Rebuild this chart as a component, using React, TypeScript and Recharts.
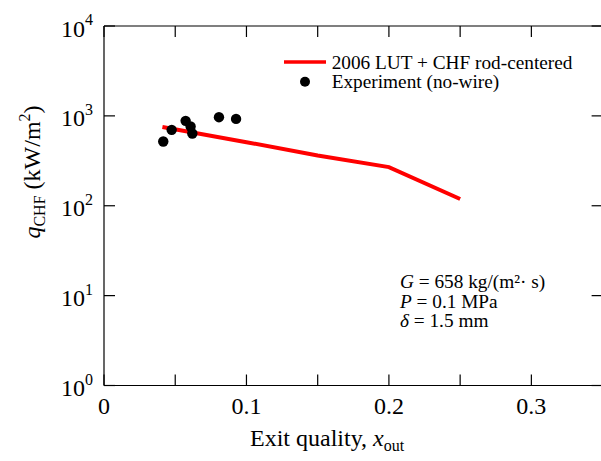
import React from "react";
import {
  ComposedChart,
  Line,
  Scatter,
  XAxis,
  YAxis,
  Legend,
} from "recharts";

// 2006 LUT + CHF rod-centered prediction
const LUT_X = [0.041, 0.1, 0.15, 0.2, 0.25];
const LUT_Q = [752, 510, 362, 269, 119];

// Experiment (no-wire)
const EXP_X = [0.0416, 0.0475, 0.0573, 0.0608, 0.062, 0.0807, 0.0927];
const EXP_Q = [518, 699, 880, 761, 636, 967, 926];

const X_TICKS = [0, 0.05, 0.1, 0.15, 0.2, 0.25, 0.3, 0.35];
const X_LABELS = ["0", "", "0.1", "", "0.2", "", "0.3", ""];
const Y_TICKS = [1, 10, 100, 1000, 10000];
const Y_EXP = ["0", "1", "2", "3", "4"];

const lutData = LUT_X.map((x, i) => ({ x, y: LUT_Q[i] }));
const expData = EXP_X.map((x, i) => ({ x, y: EXP_Q[i] }));

const FONT = "'Liberation Serif', 'Times New Roman', serif";
const INK = "#000";
const TICK = 11;
const W = 620;
const H = 461;

function BottomTick(props: any) {
  const { x, y, payload } = props;
  const i = X_TICKS.indexOf(payload.value);
  const label = i >= 0 ? X_LABELS[i] : "";
  return (
    <g>
      <line x1={x} x2={x} y1={y} y2={y - TICK} stroke={INK} strokeWidth={1.2} />
      {label && (
        <text x={x} y={y + 28} textAnchor="middle" fontSize={24} fontFamily={FONT} fill={INK}>
          {label}
        </text>
      )}
    </g>
  );
}

function TopTick(props: any) {
  const { x, y } = props;
  return <line x1={x} x2={x} y1={y} y2={y + TICK} stroke={INK} strokeWidth={1.2} />;
}

function LeftTick(props: any) {
  const { x, y, payload } = props;
  const i = Y_TICKS.indexOf(payload.value);
  return (
    <g>
      <line x1={x} x2={x + TICK} y1={y} y2={y} stroke={INK} strokeWidth={1.2} />
      <text x={x - 11} y={y + 10.5} textAnchor="end" fontSize={24} fontFamily={FONT} fill={INK}>
        10
        <tspan fontSize={16} dy={-11.5}>
          {Y_EXP[i]}
        </tspan>
      </text>
    </g>
  );
}

function RightTick(props: any) {
  const { x, y } = props;
  return <line x1={x} x2={x - TICK} y1={y} y2={y} stroke={INK} strokeWidth={1.2} />;
}

function Dot(props: any) {
  return <circle cx={props.cx} cy={props.cy} r={5.2} fill={INK} />;
}

function LegendBox() {
  return (
    <svg width={320} height={50} style={{ display: "block", overflow: "visible" }}>
      <line x1={4} x2={46} y1={14} y2={14} stroke="#ff0000" strokeWidth={3.5} />
      <text x={51.7} y={21} fontSize={19.3} fontFamily={FONT} fill={INK}>
        2006 LUT + CHF rod-centered
      </text>
      <circle cx={25} cy={33.7} r={5} fill={INK} />
      <text x={51.7} y={40} fontSize={19.3} fontFamily={FONT} fill={INK}>
        Experiment (no-wire)
      </text>
    </svg>
  );
}

export default function App() {
  const axisLine = { stroke: INK, strokeWidth: 1.2 };
  return (
    <div
      style={{
        position: "fixed",
        left: 0,
        top: 0,
        width: 601,
        height: 461,
        overflow: "hidden",
        background: "#fff",
      }}
    >
      <div style={{ position: "absolute", left: 0, top: 0, width: W, height: H }}>
        <ComposedChart
          width={W}
          height={H}
          margin={{ top: 25, right: W - 602.6 - 1, bottom: H - 385.5 - 1, left: 103 }}
        >
          <XAxis
            xAxisId={0}
            type="number"
            dataKey="x"
            domain={[0, 0.35]}
            ticks={X_TICKS}
            interval={0}
            height={1}
            tickSize={0}
            tickMargin={0}
            tickLine={false}
            axisLine={axisLine}
            tick={<BottomTick />}
            allowDataOverflow
          />
          <XAxis
            xAxisId="top"
            orientation="top"
            type="number"
            dataKey="x"
            domain={[0, 0.35]}
            ticks={X_TICKS}
            interval={0}
            height={1}
            tickSize={0}
            tickMargin={0}
            tickLine={false}
            axisLine={axisLine}
            tick={<TopTick />}
            allowDataOverflow
          />
          <YAxis
            yAxisId={0}
            type="number"
            dataKey="y"
            scale="log"
            domain={[1, 10000]}
            ticks={Y_TICKS}
            interval={0}
            width={1}
            tickSize={0}
            tickMargin={0}
            tickLine={false}
            axisLine={axisLine}
            tick={<LeftTick />}
            allowDataOverflow
          />
          <YAxis
            yAxisId="right"
            orientation="right"
            type="number"
            dataKey="y"
            scale="log"
            domain={[1, 10000]}
            ticks={Y_TICKS}
            interval={0}
            width={1}
            tickSize={0}
            tickMargin={0}
            tickLine={false}
            axisLine={axisLine}
            tick={<RightTick />}
            allowDataOverflow
          />
          <Line
            data={lutData}
            dataKey="y"
            type="linear"
            stroke="#ff0000"
            strokeWidth={4}
            dot={false}
            activeDot={false}
            isAnimationActive={false}
          />
          <Scatter
            data={expData}
            dataKey="y"
            shape={<Dot />}
            isAnimationActive={false}
          />
          <Legend
            layout="horizontal"
            align="center"
            verticalAlign="middle"
            content={<LegendBox />}
            wrapperStyle={{ position: "absolute", left: 280, top: 48, width: 320, height: 50 }}
          />
        </ComposedChart>
      </div>
      <svg
        width={W}
        height={H}
        style={{ position: "absolute", left: 0, top: 0, pointerEvents: "none" }}
        fontFamily={FONT}
        fill={INK}
      >
        <text transform="translate(40,172) rotate(-90)" textAnchor="middle" fontSize={24}>
          <tspan fontStyle="italic">q</tspan>
          <tspan fontSize={16} dy={5}>CHF</tspan>
          <tspan dy={-5}> (kW/m</tspan>
          <tspan fontSize={16} dy={-10}>2</tspan>
          <tspan dy={10}>)</tspan>
        </text>
        <text x={250} y={446} fontSize={24}>
          Exit quality,{"  "}
          <tspan fontStyle="italic">x</tspan>
          <tspan fontSize={16} dy={5}>out</tspan>
        </text>
        <text x={400} y={288} fontSize={19.3}>
          <tspan fontStyle="italic">G</tspan>
          <tspan>{" = 658 kg/(m\u00b2\u00b7 s)"}</tspan>
        </text>
        <text x={400} y={307.5} fontSize={19.3}>
          <tspan fontStyle="italic">P</tspan>
          <tspan>{" = 0.1 MPa"}</tspan>
        </text>
        <text x={400} y={327} fontSize={19.3}>
          <tspan fontStyle="italic">δ</tspan>
          <tspan>{" = 1.5 mm"}</tspan>
        </text>
      </svg>
    </div>
  );
}
